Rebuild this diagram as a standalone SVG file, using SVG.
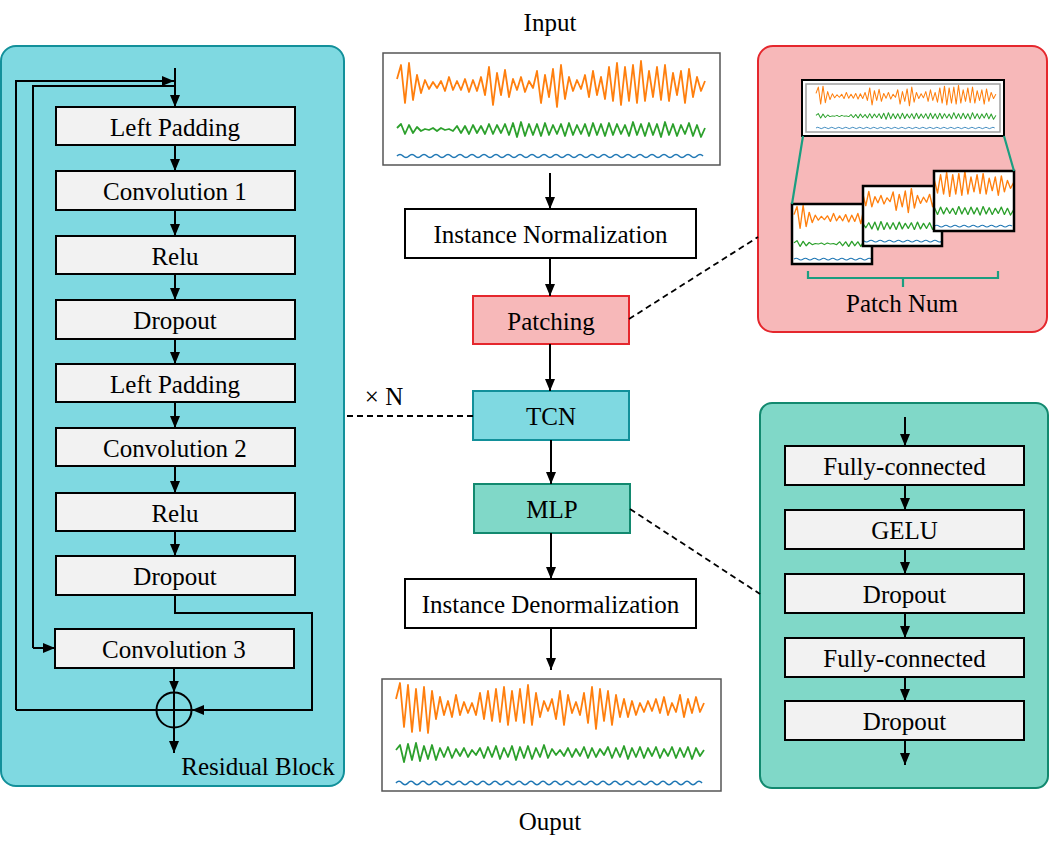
<svg xmlns="http://www.w3.org/2000/svg" xmlns:xlink="http://www.w3.org/1999/xlink" width="1050" height="852" viewBox="0 0 1050 852" font-family="'Liberation Serif', 'DejaVu Serif', serif">
<style>
.t{font-family:'Liberation Serif','Times New Roman',serif;font-size:25px;text-anchor:middle;fill:#000}
.box{fill:#f2f2f2;stroke:#000;stroke-width:2}
.wbox{fill:#fff;stroke:#000;stroke-width:2}
.ln{fill:none;stroke:#000;stroke-width:2}
.arr{fill:none;stroke:#000;stroke-width:2;marker-end:url(#ah)}
.dash{fill:none;stroke:#000;stroke-width:1.8;stroke-dasharray:6 4}
.chart{fill:#fff;stroke:#555;stroke-width:1.5}
.or{fill:none;stroke:#ff7f0e;stroke-width:1.8;stroke-linejoin:round}
.gr{fill:none;stroke:#2ca02c;stroke-width:1.8;stroke-linejoin:round}
.bl{fill:none;stroke:#1f77b4;stroke-width:1.6}
.patch{fill:none;stroke:#000;stroke-width:2.5}
.teal{fill:none;stroke:#1a9e80;stroke-width:2.2}
</style>
<defs>
<marker id="ah" viewBox="0 0 12 10" refX="12" refY="5" markerWidth="12" markerHeight="10" markerUnits="userSpaceOnUse" orient="auto"><path d="M0,0 L12,5 L0,10 z" fill="#000"/></marker>
<g id="wave-in">
<polyline class="or" points="397,79 401,65 405,103 409,63 413,100 417,75 421,93 425,80 429,89 433,82 437,88 441,81 445,91 449,77 453,90 457,81 461,90 465,79 469,92 473,80 477,91 481,77 485,95 489,67 493,105 497,73 501,95 505,70 509,97 513,79 517,90 521,77 525,92 529,81 533,88 537,71 541,103 545,75 549,97 553,69 557,107 561,65 565,99 569,77 573,91 577,80 581,89 585,75 589,97 593,71 597,95 601,77 605,99 609,67 613,101 617,63 621,105 625,67 629,101 633,65 637,103 641,61 645,101 649,71 653,97 657,67 661,100 665,65 669,101 673,73 677,95 681,71 685,103 689,69 693,97 697,77 701,91 705,81"/>
<polyline class="gr" points="397,128 401,124 405,134 409,125 413,133 417,127 421,131 425,129 429,130 433,128 437,131 441,128 445,130 449,129 453,131 457,126 461,133 465,126 469,134 473,125 477,133 481,126 485,134 489,124 493,134 497,125 501,133 505,124 509,135 513,123 517,137 521,122 525,136 529,124 533,135 537,124 541,136 545,123 549,135 553,125 557,134 561,124 565,136 569,123 573,135 577,125 581,134 585,124 589,136 593,123 597,135 601,124 605,136 609,123 613,135 617,124 621,134 625,125 629,136 633,122 637,135 641,124 645,136 649,123 653,135 657,124 661,137 665,122 669,135 673,124 677,136 681,125 685,134 689,123 693,136 697,125 701,137 705,128"/>
<path class="bl" d="M397,156 q3,-3 6,0 t6,0 t6,0 t6,0 t6,0 t6,0 t6,0 t6,0 t6,0 t6,0 t6,0 t6,0 t6,0 t6,0 t6,0 t6,0 t6,0 t6,0 t6,0 t6,0 t6,0 t6,0 t6,0 t6,0 t6,0 t6,0 t6,0 t6,0 t6,0 t6,0 t6,0 t6,0 t6,0 t6,0 t6,0 t6,0 t6,0 t6,0 t6,0 t6,0 t6,0 t6,0 t6,0 t6,0 t6,0 t6,0 t6,0 t6,0 t6,0 t6,0 t6,0"/>
</g>
<clipPath id="cp1"><rect x="792" y="204" width="80" height="60"/></clipPath>
<clipPath id="cp2"><rect x="863" y="186" width="79" height="60"/></clipPath>
<clipPath id="cp3"><rect x="934" y="171" width="80" height="60"/></clipPath>
</defs>

<!-- Panels -->
<g id="residual-block">
<rect x="1" y="46" width="343" height="740" rx="15" fill="#7fd9e1" stroke="#12909a" stroke-width="2"/>
<text class="t" x="258" y="775">Residual Block</text>
</g>
<g id="patch-panel">
<rect x="758" y="46" width="289" height="286" rx="15" fill="#f7b8b9" stroke="#e5272d" stroke-width="2"/>
</g>
<g id="mlp-panel">
<rect x="760" y="403" width="288" height="385" rx="12" fill="#80d8c8" stroke="#12896f" stroke-width="2"/>
</g>

<!-- Residual block nodes -->
<g id="rb-leftpad1"><rect class="box" x="56" y="107" width="239" height="38"/><text class="t" x="175" y="135.5">Left Padding</text></g>
<g id="rb-conv1"><rect class="box" x="56" y="171" width="239" height="39"/><text class="t" x="175" y="200">Convolution 1</text></g>
<g id="rb-relu1"><rect class="box" x="56" y="236" width="239" height="38"/><text class="t" x="175" y="264.5">Relu</text></g>
<g id="rb-dropout1"><rect class="box" x="56" y="300" width="239" height="39"/><text class="t" x="175" y="329">Dropout</text></g>
<g id="rb-leftpad2"><rect class="box" x="56" y="364" width="239" height="38"/><text class="t" x="175" y="392.5">Left Padding</text></g>
<g id="rb-conv2"><rect class="box" x="56" y="428" width="239" height="38"/><text class="t" x="175" y="456.5">Convolution 2</text></g>
<g id="rb-relu2"><rect class="box" x="56" y="493" width="239" height="38"/><text class="t" x="175" y="521.5">Relu</text></g>
<g id="rb-dropout2"><rect class="box" x="56" y="556" width="239" height="39"/><text class="t" x="175" y="585">Dropout</text></g>
<g id="rb-conv3"><rect class="box" x="55" y="629" width="239" height="39"/><text class="t" x="174" y="658">Convolution 3</text></g>
<g id="rb-add">
<circle cx="174" cy="710" r="17.5" fill="none" stroke="#000" stroke-width="2"/>
<path class="ln" d="M174,692.5 V727.5 M156.5,710 H191.5"/>
</g>

<!-- Center column -->
<g id="input">
<text class="t" x="550" y="31">Input</text>
<rect class="chart" x="383" y="53" width="337" height="112"/>
<use xlink:href="#wave-in" href="#wave-in"/>
</g>
<g id="instance-norm"><rect class="wbox" x="405" y="209" width="291" height="49"/><text class="t" x="550.5" y="243">Instance Normalization</text></g>
<g id="patching"><rect x="473" y="296" width="156" height="48" fill="#f7b8b9" stroke="#e5272d" stroke-width="2"/><text class="t" x="551" y="329.5">Patching</text></g>
<g id="tcn"><rect x="473" y="391" width="156" height="49" fill="#7fd9e1" stroke="#12909a" stroke-width="2"/><text class="t" x="551" y="425">TCN</text></g>
<g id="mlp"><rect x="474" y="484" width="156" height="49" fill="#80d8c8" stroke="#12896f" stroke-width="2"/><text class="t" x="552" y="518">MLP</text></g>
<g id="instance-denorm"><rect class="wbox" x="405" y="579" width="291" height="49"/><text class="t" x="550.5" y="613">Instance Denormalization</text></g>
<g id="output">
<rect class="chart" x="382" y="679" width="339" height="112"/>
<polyline class="or" points="396,699 400,683 404,727 408,685 412,732 416,689 420,731 424,687 428,733 432,691 436,719 440,697 444,715 448,701 452,717 456,695 460,715 464,702 468,713 472,703 476,715 480,693 484,719 488,691 492,721 496,689 500,722 504,687 508,725 512,691 516,721 520,689 524,723 528,685 532,725 536,693 540,717 544,701 548,711 552,699 556,719 560,691 564,725 568,695 572,713 576,702 580,715 584,693 588,723 592,687 596,729 600,689 604,721 608,691 612,725 616,695 620,717 624,699 628,717 632,701 636,715 640,703 644,712 648,701 652,711 656,699 660,713 664,697 668,715 672,703 676,712 680,695 684,717 688,699 692,713 696,697 700,712 704,703"/>
<polyline class="gr" points="396,750 400,745 404,762 408,744 412,760 416,743 420,761 424,746 428,759 432,745 436,760 440,748 444,757 448,747 452,758 456,749 460,756 464,748 468,757 472,750 476,755 480,748 484,758 488,747 492,757 496,746 500,759 504,748 508,757 512,746 516,760 520,747 524,758 528,746 532,759 536,748 540,757 544,745 548,758 552,749 556,755 560,750 564,756 568,748 572,757 576,749 580,756 584,747 588,758 592,748 596,757 600,749 604,755 608,747 612,758 616,748 620,757 624,746 628,759 632,748 636,757 640,747 644,758 648,748 652,756 656,747 660,758 664,749 668,756 672,747 676,758 680,748 684,757 688,747 692,759 696,748 700,756 704,750"/>
<path class="bl" d="M396,783 q3,-3.5 6,0 t6,0 t6,0 t6,0 t6,0 t6,0 t6,0 t6,0 t6,0 t6,0 t6,0 t6,0 t6,0 t6,0 t6,0 t6,0 t6,0 t6,0 t6,0 t6,0 t6,0 t6,0 t6,0 t6,0 t6,0 t6,0 t6,0 t6,0 t6,0 t6,0 t6,0 t6,0 t6,0 t6,0 t6,0 t6,0 t6,0 t6,0 t6,0 t6,0 t6,0 t6,0 t6,0 t6,0 t6,0 t6,0 t6,0 t6,0 t6,0 t6,0 t6,0"/>
<text class="t" x="550" y="830">Ouput</text>
</g>

<!-- Patch panel contents -->
<g id="patch-source">
<rect x="802" y="80" width="202" height="56" fill="#fff" stroke="#000" stroke-width="2"/>
<rect x="806" y="84" width="194" height="48" fill="none" stroke="#a0a0a0" stroke-width="1.5"/>
<use xlink:href="#wave-in" href="#wave-in" transform="matrix(0.584 0 0 0.45 584.15 57.75)"/>
</g>
<g id="patch-1">
<rect x="792" y="204" width="80" height="60" fill="#fff"/>
<g clip-path="url(#cp1)"><use xlink:href="#wave-in" href="#wave-in" transform="matrix(0.76 0 0 0.58 492.28 168.7)"/></g>
<rect class="patch" x="792" y="204" width="80" height="60"/>
</g>
<g id="patch-2">
<rect x="863" y="186" width="79" height="60" fill="#fff"/>
<g clip-path="url(#cp2)"><use xlink:href="#wave-in" href="#wave-in" transform="matrix(0.76 0 0 0.58 485 150.7)"/></g>
<rect class="patch" x="863" y="186" width="79" height="60"/>
</g>
<g id="patch-3">
<rect x="934" y="171" width="80" height="60" fill="#fff"/>
<g clip-path="url(#cp3)"><use xlink:href="#wave-in" href="#wave-in" transform="matrix(0.76 0 0 0.58 477.72 135.7)"/></g>
<rect class="patch" x="934" y="171" width="80" height="60"/>
</g>
<g id="patch-num">
<path class="teal" d="M803,136 L792,204 M1004,136 L1014,171"/>
<path class="teal" d="M808,271 V278 H998 V271 M903,278 V287" stroke-width="2.5"/>
<text class="t" x="902" y="312">Patch Num</text>
</g>

<!-- MLP panel nodes -->
<g id="mlp-fc1"><rect class="box" x="785" y="446" width="239" height="39"/><text class="t" x="904.5" y="475">Fully-connected</text></g>
<g id="mlp-gelu"><rect class="box" x="785" y="510" width="239" height="39"/><text class="t" x="904.5" y="539">GELU</text></g>
<g id="mlp-dropout1"><rect class="box" x="785" y="574" width="239" height="39"/><text class="t" x="904.5" y="603">Dropout</text></g>
<g id="mlp-fc2"><rect class="box" x="785" y="638" width="239" height="39"/><text class="t" x="904.5" y="667">Fully-connected</text></g>
<g id="mlp-dropout2"><rect class="box" x="785" y="701" width="239" height="39"/><text class="t" x="904.5" y="730">Dropout</text></g>

<text class="t" x="384" y="405">× N</text>

<!-- Connectors -->
<g id="connectors">
<path class="arr" d="M175,68 V107"/>
<path class="arr" d="M16,710 V81 H174"/>
<path class="ln" d="M175,86 H33 V648"/>
<path class="arr" d="M33,648 H55"/>
<path class="arr" d="M175,145 V171"/>
<path class="arr" d="M175,210 V236"/>
<path class="arr" d="M175,274 V300"/>
<path class="arr" d="M175,339 V364"/>
<path class="arr" d="M175,402 V428"/>
<path class="arr" d="M175,466 V493"/>
<path class="arr" d="M175,531 V556"/>
<path class="ln" d="M16,710 H156.5"/>
<path class="arr" d="M175,595 V613 H312 V710 H192"/>
<path class="arr" d="M174,668 V692.5"/>
<path class="arr" d="M174,727.5 V753"/>
<path class="arr" d="M550,173 V209"/>
<path class="arr" d="M550,258 V296"/>
<path class="arr" d="M550,344 V391"/>
<path class="arr" d="M551,440 V484"/>
<path class="arr" d="M551,533 V579"/>
<path class="arr" d="M551,628 V670"/>
<path class="arr" d="M905,417 V446"/>
<path class="arr" d="M905,485 V510"/>
<path class="arr" d="M905,549 V574"/>
<path class="arr" d="M905,613 V638"/>
<path class="arr" d="M905,677 V701"/>
<path class="arr" d="M905,740 V765"/>
<path class="dash" d="M629,319 L758,237"/>
<path class="dash" d="M473,416 H345"/>
<path class="dash" d="M630,509 L760,594"/>
</g>
</svg>
